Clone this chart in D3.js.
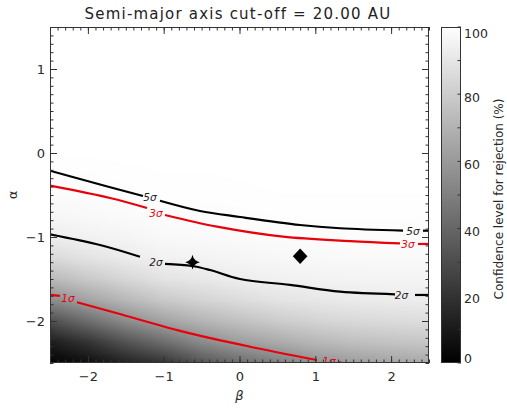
<!DOCTYPE html>
<html><head><meta charset="utf-8">
<script src="https://cdn.jsdelivr.net/npm/d3@7"></script>
<style>
body{margin:0;background:#fff}
svg{display:block}
text{font-family:"DejaVu Sans","Liberation Sans",Arial,sans-serif}
</style>
</head><body>
<svg id="chart" width="507" height="409"></svg>
<script>
// ---------------- data ----------------
const titleText = "Semi-major axis cut-off = 20.00 AU";
const xLabel = "β";
const yLabel = "α";
const cbLabel = "Confidence level for rejection (%)";

const xTicks = [-2, -1, 0, 1, 2];
const yTicks = [-2, -1, 0, 1];
const cbTicks = [0, 20, 40, 60, 80, 100];

// grid of the confidence-level image (%)
const betaGrid = [-2.5, -2, -1.5, -1, -0.5, 0, 0.5, 1, 1.5, 2, 2.5];
const alphaGrid = [-2.5, -2.25, -2, -1.75, -1.5, -1.25, -1, -0.75, -0.5, 0, 1.5];
const confidence = [
  [ 1.1,  5.4, 13.2, 20.3, 33.0, 42.0, 49.7, 57.0, 61.6, 64.3, 66.2],
  [11.1, 20.3, 32.5, 43.0, 54.3, 61.8, 67.0, 71.9, 74.9, 76.7, 77.9],
  [31.0, 43.0, 54.9, 63.9, 70.8, 75.8, 80.0, 83.1, 85.1, 86.0, 86.7],
  [54.6, 63.9, 72.0, 78.8, 83.1, 86.3, 89.1, 90.7, 92.0, 92.4, 92.7],
  [72.6, 78.8, 84.2, 89.1, 91.0, 93.3, 94.5, 95.0, 95.5, 95.6, 95.6],
  [85.1, 89.1, 92.2, 94.8, 95.3, 96.2, 96.9, 97.4, 97.8, 97.8, 97.8],
  [93.2, 94.8, 95.9, 97.5, 97.8, 98.2, 98.5, 98.7, 98.8, 98.8, 98.7],
  [96.4, 97.5, 98.2, 98.8, 98.9, 99.2, 99.4, 99.5, 99.5, 99.5, 99.4],
  [98.5, 98.8, 99.2, 99.6, 99.6, 99.7, 99.8, 99.8, 99.8, 99.8, 99.8],
  [99.85,99.95,100, 100,  100,  100,  100,  100,  100,  100,  100 ],
  [100,  100,  100,  100,  100,  100,  100,  100,  100,  100,  100 ]
];

// contour lines [beta, alpha], split where the labels sit
const contour5 = [
  [[-2.5,-0.211],[-2.104,-0.310],[-1.273,-0.512]],
  [[-1.049,-0.568],[-0.521,-0.690],[0.007,-0.762],[0.798,-0.857],[1.326,-0.896],[2.157,-0.925]],
  [[2.421,-0.925],[2.5,-0.925]]
];
const contour3 = [
  [[-2.5,-0.389],[-1.708,-0.536],[-1.220,-0.655]],
  [[-0.983,-0.738],[-0.297,-0.877],[0.574,-0.996],[1.458,-1.048],[2.117,-1.075]],
  [[2.355,-1.083],[2.5,-1.083]]
];
const contour2 = [
  [[-2.5,-0.968],[-1.840,-1.095],[-1.313,-1.235]],
  [[-0.983,-1.321],[-0.627,-1.345],[-0.389,-1.393],[0.007,-1.500],[0.666,-1.571],[1.326,-1.651],[2.052,-1.682]],
  [[2.315,-1.690],[2.5,-1.690]]
];
const contour1 = [
  [[-2.5,-1.690],[-2.368,-1.702]],
  [[-2.144,-1.777],[-1.616,-1.908],[-0.745,-2.127],[0.139,-2.306],[1.022,-2.464]],
  [[1.299,-2.485],[1.392,-2.512]]
];
const contourLabels = [
  {text:"5σ", beta:-1.181, alpha:-0.524, red:false},
  {text:"5σ", beta: 2.289, alpha:-0.925, red:false},
  {text:"3σ", beta:-1.102, alpha:-0.714, red:true},
  {text:"3σ", beta: 2.223, alpha:-1.083, red:true},
  {text:"2σ", beta:-1.102, alpha:-1.298, red:false},
  {text:"2σ", beta: 2.137, alpha:-1.685, red:false},
  {text:"1σ", beta:-2.263, alpha:-1.726, red:true},
  {text:"1σ", beta: 1.181, alpha:-2.476, red:true}
];

const starPoint = {beta:-0.62, alpha:-1.30};
const diamondPoint = {beta:0.80, alpha:-1.23};

// ---------------- drawing ----------------
const svg = d3.select("#chart");
const L = 50, R = 429, T = 27, B = 363;
const x = d3.scaleLinear().domain([-2.5, 2.5]).range([L, R]);
const y = d3.scaleLinear().domain([-2.5, 1.5]).range([B, T]);
const gray = d3.scaleLinear().domain([0, 100]).range([0, 255]).clamp(true);

// background image
(function(){
  const w = R - L, h = B - T;
  const cv = document.createElement("canvas");
  cv.width = w; cv.height = h;
  const ctx = cv.getContext("2d");
  const img = ctx.createImageData(w, h);
  function val(b, a){
    let i = Math.min(Math.max(d3.bisectRight(betaGrid, b) - 1, 0), betaGrid.length - 2);
    let j = Math.min(Math.max(d3.bisectRight(alphaGrid, a) - 1, 0), alphaGrid.length - 2);
    const tb = Math.min(Math.max((b - betaGrid[i]) / (betaGrid[i+1] - betaGrid[i]), 0), 1);
    const ta = Math.min(Math.max((a - alphaGrid[j]) / (alphaGrid[j+1] - alphaGrid[j]), 0), 1);
    const v00 = confidence[j][i], v10 = confidence[j][i+1];
    const v01 = confidence[j+1][i], v11 = confidence[j+1][i+1];
    return (v00*(1-tb) + v10*tb)*(1-ta) + (v01*(1-tb) + v11*tb)*ta;
  }
  for (let py = 0; py < h; py++) {
    const a = y.invert(T + py + 0.5);
    for (let px = 0; px < w; px++) {
      const b = x.invert(L + px + 0.5);
      const g = Math.round(gray(val(b, a)));
      const k = (py*w + px)*4;
      img.data[k] = g; img.data[k+1] = g; img.data[k+2] = g; img.data[k+3] = 255;
    }
  }
  ctx.putImageData(img, 0, 0);
  svg.append("image").attr("x", L).attr("y", T).attr("width", w).attr("height", h)
    .attr("preserveAspectRatio", "none").attr("href", cv.toDataURL());
})();

// contours
const line = d3.line().curve(d3.curveCatmullRom.alpha(0.5)).x(d => x(d[0])).y(d => y(d[1]));
svg.append("clipPath").attr("id", "plotclip")
  .append("rect").attr("x", L).attr("y", T).attr("width", R - L).attr("height", B - T);
const cg = svg.append("g").attr("clip-path", "url(#plotclip)");
[[contour5, "#000"], [contour3, "#e8000b"], [contour2, "#000"], [contour1, "#e8000b"]].forEach(([segs, col]) => {
  segs.forEach(s => cg.append("path").attr("d", line(s)).attr("fill", "none")
    .attr("stroke", col).attr("stroke-width", 2.2).attr("stroke-linejoin", "round"));
});
cg.selectAll("text.cl").data(contourLabels).join("text").attr("class", "cl")
  .attr("x", d => x(d.beta)).attr("y", d => y(d.alpha))
  .attr("text-anchor", "middle").attr("dominant-baseline", "central")
  .attr("font-size", 10.5).attr("font-style", "italic")
  .attr("fill", d => d.red ? "#e8000b" : "#222")
  .text(d => d.text);

// markers
const sr = 7.4, si = 2.1;
const starPath = `M0,${-sr}Q${si*0.6},${-si*0.6} ${sr},0Q${si*0.6},${si*0.6} 0,${sr}Q${-si*0.6},${si*0.6} ${-sr},0Q${-si*0.6},${-si*0.6} 0,${-sr}Z`;
svg.append("path").attr("d", starPath)
  .attr("transform", `translate(${x(starPoint.beta)},${y(starPoint.alpha)})`).attr("fill", "#000");
svg.append("path").attr("d", "M0,-7.8L7.3,0L0,7.8L-7.3,0Z")
  .attr("transform", `translate(${x(diamondPoint.beta)},${y(diamondPoint.alpha)})`).attr("fill", "#000");

// axes
const fmt = d3.format("d");
const minorX = d3.range(-25, 26).map(v => v / 10);
const minorY = d3.range(-25, 16).map(v => v / 10);
function styleAxis(g){
  g.select(".domain").remove();
  g.selectAll("line").attr("stroke", "#333");
  g.selectAll("text").attr("font-size", 13).attr("fill", "#2a2a2a")
    .attr("font-family", '"DejaVu Sans","Liberation Sans",Arial,sans-serif');
}
svg.append("g").attr("transform", `translate(0,${B})`)
  .call(d3.axisBottom(x).tickValues(minorX).tickSize(-3.5).tickFormat("")).call(styleAxis);
svg.append("g").attr("transform", `translate(0,${B})`)
  .call(d3.axisBottom(x).tickValues(xTicks).tickSize(-7).tickPadding(9).tickFormat(fmt)).call(styleAxis);
svg.append("g").attr("transform", `translate(0,${T})`)
  .call(d3.axisTop(x).tickValues(minorX).tickSize(-3.5).tickFormat("")).call(styleAxis);
svg.append("g").attr("transform", `translate(0,${T})`)
  .call(d3.axisTop(x).tickValues(xTicks).tickSize(-7).tickFormat("")).call(styleAxis);
svg.append("g").attr("transform", `translate(${L},0)`)
  .call(d3.axisLeft(y).tickValues(minorY).tickSize(-3.5).tickFormat("")).call(styleAxis);
svg.append("g").attr("transform", `translate(${L},0)`)
  .call(d3.axisLeft(y).tickValues(yTicks).tickSize(-7).tickPadding(5).tickFormat(fmt)).call(styleAxis);
svg.append("g").attr("transform", `translate(${R},0)`)
  .call(d3.axisRight(y).tickValues(minorY).tickSize(-3.5).tickFormat("")).call(styleAxis);
svg.append("g").attr("transform", `translate(${R},0)`)
  .call(d3.axisRight(y).tickValues(yTicks).tickSize(-7).tickFormat("")).call(styleAxis);

svg.append("rect").attr("x", L + 0.5).attr("y", T + 0.5).attr("width", R - L - 1).attr("height", B - T - 1)
  .attr("fill", "none").attr("stroke", "#333").attr("stroke-width", 1);

// titles
svg.append("text").attr("x", 238).attr("y", 19).attr("text-anchor", "middle")
  .attr("font-size", 15).attr("letter-spacing", 1.2).attr("fill", "#222").text(titleText);
svg.append("text").attr("x", x(0)).attr("y", 400).attr("text-anchor", "middle")
  .attr("font-size", 13).attr("fill", "#2a2a2a").attr("font-style", "italic").text(xLabel);
svg.append("text").attr("transform", `translate(17,${y(-0.5)}) rotate(-90)`).attr("text-anchor", "middle")
  .attr("font-size", 13).attr("fill", "#2a2a2a").text(yLabel);

// colour bar
const cbL = 441, cbR = 461;
const cb = d3.scaleLinear().domain([0, 100]).range([B, T]);
const defs = svg.append("defs");
const grad = defs.append("linearGradient").attr("id", "cbgrad")
  .attr("x1", 0).attr("y1", 1).attr("x2", 0).attr("y2", 0);
grad.selectAll("stop").data([0, 100]).join("stop")
  .attr("offset", d => d / 100)
  .attr("stop-color", d => { const g = Math.round(gray(d)); return `rgb(${g},${g},${g})`; });
svg.append("rect").attr("x", cbL).attr("y", T).attr("width", cbR - cbL).attr("height", B - T)
  .attr("fill", "url(#cbgrad)");
const cbMinor = d3.range(0, 101, 10);
svg.append("g").selectAll("line").data(cbMinor).join("line")
  .attr("x1", cbR - 3.5).attr("x2", cbR).attr("y1", d => cb(d)).attr("y2", d => cb(d))
  .attr("stroke", "#333");
svg.append("rect").attr("x", cbL + 0.5).attr("y", T + 0.5).attr("width", cbR - cbL - 1).attr("height", B - T - 1)
  .attr("fill", "none").attr("stroke", "#333");
svg.append("g").selectAll("text").data(cbTicks).join("text")
  .attr("x", cbR + 3).attr("y", d => Math.min(Math.max(cb(d) + 3, 33), 358))
  .attr("dominant-baseline", "central").attr("font-size", 12.5).attr("fill", "#2a2a2a")
  .text(d => d);
svg.append("text").attr("transform", `translate(499,${(T + B) / 2 + 4}) rotate(-90)`)
  .attr("text-anchor", "middle").attr("dominant-baseline", "central")
  .attr("font-size", 12).attr("fill", "#2a2a2a").text(cbLabel);
</script>
</body></html>
